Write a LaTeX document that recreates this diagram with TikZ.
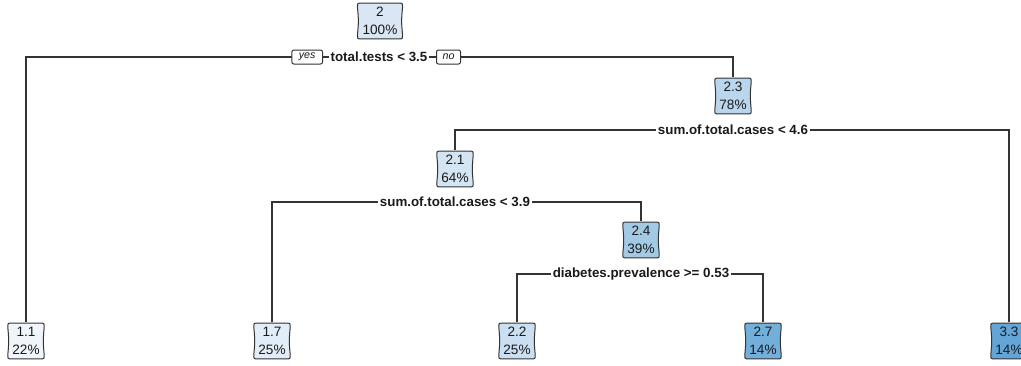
\documentclass[tikz,border=0pt]{standalone}
\usepackage{fontspec}
\setmainfont{Liberation Sans}
\usetikzlibrary{calc,backgrounds}

\definecolor{linegray}{HTML}{333333}
\definecolor{txtgray}{HTML}{1A1A1A}
\definecolor{bA}{HTML}{EFF5FB}
\definecolor{bB}{HTML}{E1EDF8}
\definecolor{bRoot}{HTML}{D9E7F5}
\definecolor{bC}{HTML}{D3E4F3}
\definecolor{bD}{HTML}{CADFF1}
\definecolor{bE}{HTML}{B9D6EC}
\definecolor{bF}{HTML}{A2CAE5}
\definecolor{bG}{HTML}{72AFDA}
\definecolor{bH}{HTML}{63A5D6}

\tikzset{
  % tree node: box with slightly pinched sides, drawn inside the node frame
  tnode/.style={
    minimum width=28.5pt, minimum height=28pt, inner sep=0pt,
    align=center, text=txtgray,
    font=\fontsize{10.2}{13.6}\selectfont,
    path picture={
      \coordinate (pa) at ([shift={(0.6pt,-0.6pt)}]path picture bounding box.north west);
      \coordinate (pb) at ([shift={(-0.6pt,-0.6pt)}]path picture bounding box.north east);
      \coordinate (pc) at ([shift={(-0.6pt,0.6pt)}]path picture bounding box.south east);
      \coordinate (pd) at ([shift={(0.6pt,0.6pt)}]path picture bounding box.south west);
      \filldraw[fill=#1, draw=linegray, line width=0.75pt]
        ($(pa)+(3pt,0)$) .. controls ($(pa)!0.5!(pb)+(0,-0.5pt)$) .. ($(pb)+(-3pt,0)$)
        .. controls (pb) .. ($(pb)+(0,-3pt)$)
        .. controls ($(pb)!0.5!(pc)+(-0.9pt,0)$) .. ($(pc)+(0,3pt)$)
        .. controls (pc) .. ($(pc)+(-3pt,0)$)
        .. controls ($(pc)!0.5!(pd)+(0,0.5pt)$) .. ($(pd)+(3pt,0)$)
        .. controls (pd) .. ($(pd)+(0,3pt)$)
        .. controls ($(pd)!0.5!(pa)+(0.9pt,0)$) .. ($(pa)+(0,-3pt)$)
        .. controls (pa) .. cycle;
    }},
  splitlabel/.style={fill=white, inner xsep=1.5pt, inner ysep=1pt,
    text=txtgray, font=\fontsize{10}{12}\selectfont\bfseries},
  yesno/.style={draw=linegray, fill=white, rounded corners=1.5pt,
    line width=0.75pt, minimum height=10.5pt, inner xsep=3pt, inner ysep=0pt,
    text=txtgray, font=\fontsize{8}{9}\selectfont\itshape},
  conn/.style={draw=linegray, line width=0.8pt}
}

\begin{document}
\begin{tikzpicture}[x=0.75pt,y=-0.75pt]
\useasboundingbox (0,0) rectangle (1021,365);

% tree nodes
\node[tnode=bRoot, minimum width=35pt] (n2)  at (380,21)  {2\\100\%};
\node[tnode=bE]  (n23) at (733,96)  {2.3\\78\%};
\node[tnode=bC]  (n21) at (455,169) {2.1\\64\%};
\node[tnode=bF]  (n24) at (641,240) {2.4\\39\%};
\node[tnode=bA]  (n11) at (26,341)  {1.1\\22\%};
\node[tnode=bB]  (n17) at (272,341) {1.7\\25\%};
\node[tnode=bD]  (n22) at (517,341) {2.2\\25\%};
\node[tnode=bG]  (n27) at (763,341) {2.7\\14\%};
\node[tnode=bH]  (n33) at (1009,341) {3.3\\14\%};

% split labels
\node[splitlabel] (s1) at (379,57)  {total.tests < 3.5};
\node[splitlabel] (s2) at (733,130) {sum.of.total.cases < 4.6};
\node[splitlabel] (s3) at (455,202) {sum.of.total.cases < 3.9};
\node[splitlabel] (s4) at (641,274) {diabetes.prevalence >= 0.53};

\node[yesno, minimum width=23pt, anchor=east] (yes) at (323,57) {yes};
\node[yesno, minimum width=18pt, anchor=west] (no)  at (436,57) {no};

% branches
\begin{scope}[on background layer]
  \draw[conn] (n11.north) |- (s1.center) -| (n23.north);
  \draw[conn] (n21.north) |- (s2.center) -| (n33.north);
  \draw[conn] (n17.north) |- (s3.center) -| (n24.north);
  \draw[conn] (n22.north) |- (s4.center) -| (n27.north);
\end{scope}
\end{tikzpicture}
\end{document}
